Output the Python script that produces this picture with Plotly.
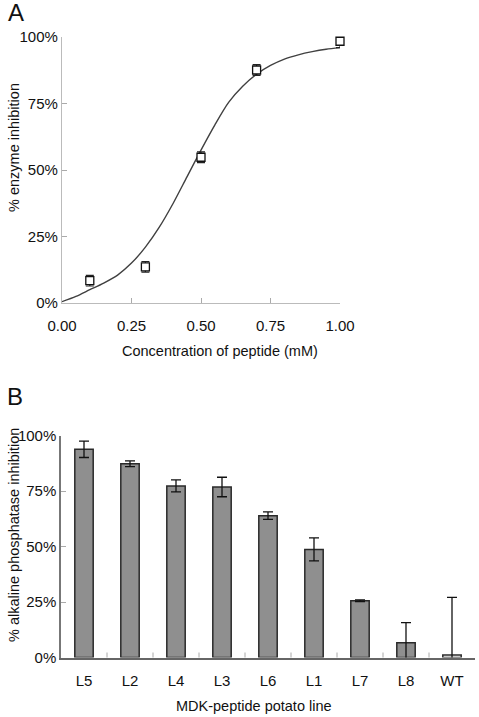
import plotly.graph_objects as go

# Panel A data
conc = [0.1, 0.3, 0.5, 0.7, 1.0]
inhib = [8.4, 13.6, 54.8, 87.6, 98.4]
inhib_err = [2.0, 2.0, 2.0, 2.0, 2.4]

# fitted curve
curve_x = [0.0, 0.05, 0.1, 0.15, 0.2, 0.25, 0.3, 0.35, 0.4, 0.45, 0.5, 0.55, 0.6,
           0.65, 0.7, 0.75, 0.8, 0.85, 0.9, 0.95, 1.0]
curve_y = [0.5, 2.5, 5.0, 7.5, 10.5, 15.0, 21.0, 28.5, 37.5, 47.5, 57.5, 67.0, 75.5,
           81.5, 86.0, 89.3, 91.7, 93.3, 94.5, 95.4, 96.0]

# Panel B data
lines = ["L5", "L2", "L4", "L3", "L6", "L1", "L7", "L8", "WT"]
alp = [93.8, 87.3, 77.3, 76.8, 63.9, 48.7, 25.6, 6.7, 1.1]
alp_err = [3.7, 1.3, 2.7, 4.4, 1.7, 5.2, 0.4, 9.0, 26.0]
bar_colors = ["#8f8f8f"] * 8 + ["#ffffff"]

W, H = 479, 717
FONT = "Liberation Sans, Arial, sans-serif"

def px(x):
    return x / W

def py(y):
    return 1 - y / H

fig = go.Figure()

fig.add_trace(go.Scatter(
    x=curve_x, y=curve_y, mode="lines",
    line=dict(color="#404040", width=1.4, shape="spline", smoothing=0.8),
    xaxis="x", yaxis="y", hoverinfo="skip", showlegend=False))

fig.add_trace(go.Scatter(
    x=conc, y=inhib, mode="markers",
    marker=dict(symbol="square", size=8, color="#ffffff", line=dict(width=1.3, color="#111111")),
    error_y=dict(type="data", array=inhib_err, color="#222222", thickness=1.2, width=4),
    xaxis="x", yaxis="y", showlegend=False, cliponaxis=False))

fig.add_trace(go.Bar(
    x=lines, y=alp, width=0.4,
    marker=dict(color=bar_colors, line=dict(color="#2a2a2a", width=1.5)),
    error_y=dict(type="data", array=alp_err, color="#111111", thickness=1.3, width=5),
    xaxis="x2", yaxis="y2", showlegend=False, cliponaxis=False))

tickfont = dict(family=FONT, size=15, color="#111111")

fig.update_layout(
    width=W, height=H, margin=dict(l=0, r=0, t=0, b=0, pad=0), autosize=False,
    paper_bgcolor="white", plot_bgcolor="white",
    font=dict(family=FONT, color="#111111"),
    xaxis=dict(domain=[px(62), px(340)], range=[0, 1], tickvals=[0, 0.25, 0.5, 0.75, 1.0],
               ticktext=["0.00", "0.25", "0.50", "0.75", "1.00"], ticks="inside", ticklen=5,
               tickcolor="#aaaaaa", showline=True, linecolor="#bbbbbb", linewidth=1.2,
               showgrid=False, zeroline=False, tickfont=tickfont, anchor="y",
               automargin=False, ticklabelstandoff=9),
    yaxis=dict(domain=[py(303), py(37)], range=[0, 100], tickvals=[0, 25, 50, 75, 100],
               ticktext=["0%", "25%", "50%", "75%", "100%"], ticks="inside", ticklen=5,
               tickcolor="#aaaaaa", showline=True, linecolor="#bbbbbb", linewidth=1.2,
               showgrid=False, zeroline=False, tickfont=tickfont, anchor="x",
               automargin=False),
    xaxis2=dict(domain=[px(61), px(475)], range=[-0.5, 8.5], tickvals=list(range(9)),
                ticktext=lines, ticks="", showline=True, linecolor="#666666", linewidth=1.5,
                showgrid=False, zeroline=False, tickfont=tickfont, anchor="y2",
                automargin=False, ticklabelstandoff=9),
    yaxis2=dict(domain=[py(657.5), py(435.5)], range=[0, 100], tickvals=[0, 25, 50, 75, 100],
                ticktext=["0%", "25%", "50%", "75%", "100%"], ticks="inside", ticklen=5,
                tickcolor="#aaaaaa", showline=True, linecolor="#777777", linewidth=1.5,
                showgrid=False, zeroline=False, tickfont=tickfont, anchor="x2",
                automargin=False),
)

# boundary ticks on the bar chart x axis (between categories)
for b in [0.5, 1.5, 2.5, 3.5, 4.5, 5.5, 6.5, 7.5]:
    fig.add_shape(type="line", xref="x2", yref="paper", x0=b, x1=b,
                  y0=py(657.5), y1=py(652.5), line=dict(color="#aaaaaa", width=1))

ann = [
    dict(text="A", x=px(6), y=py(13), xanchor="left", yanchor="middle", font=dict(size=24)),
    dict(text="B", x=px(5), y=py(397), xanchor="left", yanchor="middle", font=dict(size=24)),
    dict(text="% enzyme inhibition", x=px(14), y=py(148), textangle=-90,
         xanchor="center", yanchor="middle", font=dict(size=14.5)),
    dict(text="Concentration of peptide (mM)", x=px(220), y=py(351),
         xanchor="center", yanchor="middle", font=dict(size=14.5)),
    dict(text="% alkaline phosphatase inhibition", x=px(14), y=py(535), textangle=-90,
         xanchor="center", yanchor="middle", font=dict(size=14.5)),
    dict(text="MDK-peptide potato line", x=px(254), y=py(706),
         xanchor="center", yanchor="middle", font=dict(size=14.5)),
]
for a in ann:
    a.update(xref="paper", yref="paper", showarrow=False)
    a["font"].update(family=FONT, color="#111111")
    fig.add_annotation(**a)

fig.write_html("out.html", config={"displayModeBar": False},
               post_script="document.body.style.margin='0';document.body.style.overflow='hidden';")
